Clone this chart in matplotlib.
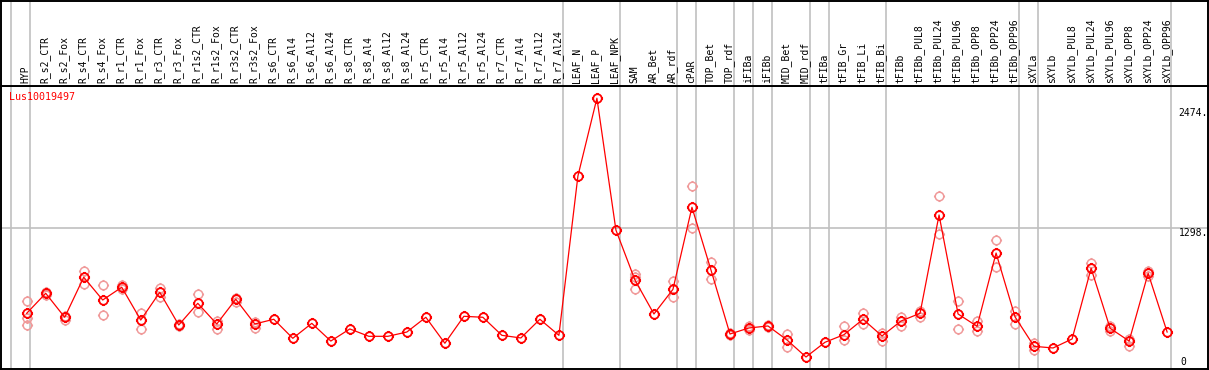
import matplotlib
matplotlib.use("Agg")
import numpy as np
from matplotlib import pyplot as plt
from matplotlib.path import Path

# column labels
samples = ["HYP", "R_s2_CTR", "R_s2_Fox", "R_s4_CTR", "R_s4_Fox", "R_r1_CTR", "R_r1_Fox",
           "R_r3_CTR", "R_r3_Fox", "R_r1s2_CTR", "R_r1s2_Fox", "R_r3s2_CTR", "R_r3s2_Fox",
           "R_s6_CTR", "R_s6_Al4", "R_s6_Al12", "R_s6_Al24", "R_s8_CTR", "R_s8_Al4",
           "R_s8_Al12", "R_s8_Al24", "R_r5_CTR", "R_r5_Al4", "R_r5_Al12", "R_r5_Al24",
           "R_r7_CTR", "R_r7_Al4", "R_r7_Al12", "R_r7_Al24", "LEAF_N", "LEAF_P", "LEAF_NPK",
           "SAM", "AR_Bet", "AR_rdf", "cPAR", "TOP_Bet", "TOP_rdf", "iFIBa", "iFIBb",
           "MID_Bet", "MID_rdf", "tFIBa", "tFIB_Gr", "tFIB_Li", "tFIB_Bi", "tFIBb",
           "tFIBb_PUL8", "tFIBb_PUL24", "tFIBb_PUL96", "tFIBb_OPP8", "tFIBb_OPP24",
           "tFIBb_OPP96", "sXYLa", "sXYLb", "sXYLb_PUL8", "sXYLb_PUL24", "sXYLb_PUL96",
           "sXYLb_OPP8", "sXYLb_OPP24", "sXYLb_OPP96"]

# mean expression
means = [519, 701, 483, 847, 640, 756, 458, 710, 413, 610, 422, 647, 422,
         465, 292, 428, 267, 377, 310, 310, 349, 483, 247, 492, 483, 319, 295, 465, 319,
         1767, 2474, 1276, 822, 513, 737, 1483, 913, 331, 386, 404, 277, 122, 256,
         325, 465, 313, 449, 519, 1413, 513, 401, 1067, 486, 219, 204, 286, 928, 383,
         267, 883, 349]

# replicate values
reps = [[631, 477, 413], [690, 712], [495, 458], [906, 783], [774, 504], [772, 740],
        [519, 379], [752, 670], [420, 403], [692, 528], [452, 377], [661, 625], [443, 383],
        [], [], [], [], [], [], [], [], [], [], [], [], [], [], [], [],
        [], [], [], [877, 849, 737], [], [813, 665], [1676, 1292], [983, 828], [343, 319],
        [404, 367], [413, 395], [331, 216], [], [],
        [401, 277], [519, 422], [343, 270], [488, 404], [543, 488], [1585, 1240],
        [634, 379], [452, 361], [1183, 940], [540, 425], [252, 186], [], [],
        [979, 867], [404, 356], [288, 222], [906, 858], []]

# group separators, after these columns
group_ends = [-1, 0, 28, 31, 34, 35, 37, 38, 39, 41, 42, 45, 52, 53, 60]

gene = "Lus10019497"
ymax = 2474
ymid = 1298

# circle with four little stubs
circ = Path.unit_circle()
verts = list(circ.vertices)
codes = list(circ.codes)
for dx, dy in [(1, 0), (-1, 0), (0, 1), (0, -1)]:
    verts += [(dx, dy), (dx * 1.3, dy * 1.3)]
    codes += [Path.MOVETO, Path.LINETO]
dot_marker = Path(np.array(verts), codes)

W, H = 1209, 370
fig = plt.figure(figsize=(W / 100, H / 100), dpi=100)
plot_top = 85.7
ax = fig.add_axes([1 / W, 1 / H, 1207 / W, (369 - plot_top) / H])
hx = fig.add_axes([1 / W, (H - plot_top) / H, 1207 / W, (plot_top - 0.5) / H])

xlim = (-1.352, 62.15)
grey = "#c0c0c0"
red = "#ff0000"
pink = "#f09a9a"
mono = "DejaVu Sans Mono"

for a in (ax, hx):
    a.set_xlim(*xlim)
    for g in group_ends:
        a.axvline(g + 0.19, color=grey, lw=1.2, zorder=0)
    a.set_xticks([])
    a.set_yticks([])
    for s in a.spines.values():
        s.set_color("black")
        s.set_linewidth(1.4)

ax.set_ylim(12.9, 2588)
hx.set_ylim(0, 1)
ax.axhline(ymid, color=grey, lw=1.2, zorder=0)

# replicates
for i, vals in enumerate(reps):
    if vals:
        ax.plot([i] * len(vals), vals, ls="none", marker=dot_marker, ms=8, mfc="none",
                mec=pink, mew=1.1, zorder=2)

xs = list(range(len(samples)))
ax.plot(xs, means, color=red, lw=0.9, zorder=3)
ax.plot(xs, means, ls="none", marker=dot_marker, ms=8, mfc="none", mec=red,
        mew=1.3, zorder=4)

for i, lab in enumerate(samples):
    hx.text(i - 0.05, 0.03, lab, rotation=90, ha="center", va="bottom",
            fontsize=7, family=mono)

ax.text(0.0069, 0.961, gene, transform=ax.transAxes, color=red, fontsize=7.2,
        family=mono, ha="left", va="center")

tr = ax.get_yaxis_transform()
ax.text(0.9755, 0.904, f"{ymax}.", transform=ax.transAxes, fontsize=7,
        family=mono, ha="left", va="center")
ax.text(0.9755, ymid, f"{ymid}.", transform=tr, fontsize=7,
        family=mono, ha="left", va="top")
ax.text(0.9772, 0.0236, "0", transform=ax.transAxes, fontsize=7,
        family=mono, ha="left", va="center")

fig.savefig("out.png", dpi=100)
